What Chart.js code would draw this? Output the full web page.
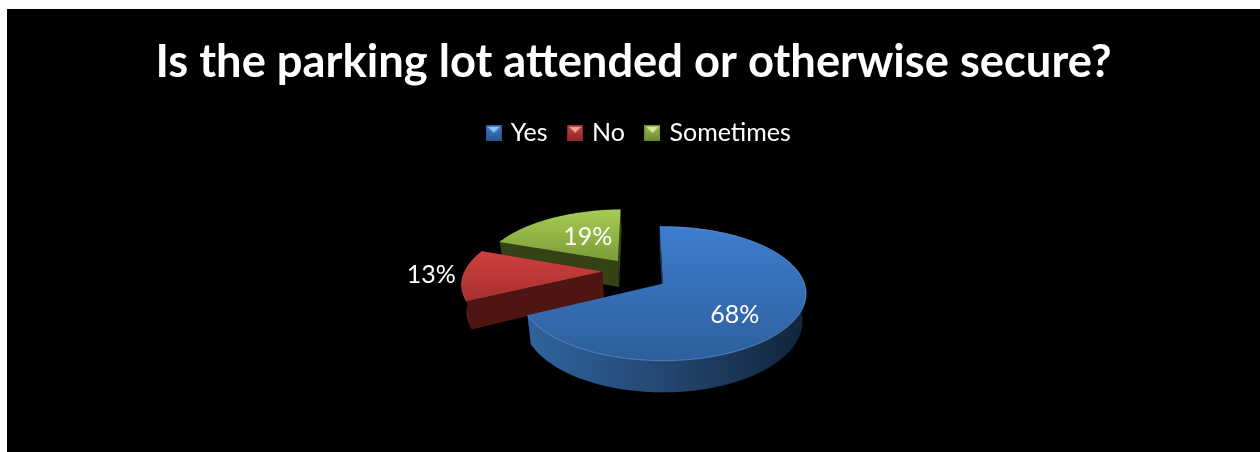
<!DOCTYPE html>
<html>
<head>
<meta charset="utf-8">
<style>
html,body{margin:0;padding:0;background:#fff;overflow:hidden;width:1260px;height:452px}
#c{position:absolute;left:7px;top:9px;background:#000;display:block}
</style>
<script src="https://cdn.jsdelivr.net/npm/chart.js@4/dist/chart.umd.min.js"></script>
</head>
<body>
<canvas id="c" width="1253" height="443"></canvas>
<script>
const titleText = "Is the parking lot attended or otherwise secure?";
const categories = ["Yes", "No", "Sometimes"];
const values = [68, 13, 19];

// Look of the tilted 3D pie
const FONT = "Lato, Carlito, Calibri, sans-serif";
const look = {
  rx: 141.5, ry: 65.5, persp: 0.149, depth: 27, lowerScale: 0.975, centerShiftX: 29.5,
  explode: [[0, 0], [-0.441, -0.19], [-0.335, -0.36]],
  labelT: [0.566, 1.22, 0.42],
  labelNudge: [[0, 11], [-1, -1], [-1, -5]],
  top: [["#3d7dce", "#2e5f9d"], ["#cf403d", "#a5312e"], ["#a6cb52", "#7c9c39"]],
  outer: [["#2f649f", "#234670", "#12233b"], ["#7a2220", "#5a1917", "#4a1411"], ["#3d4e1a", "#344215", "#2f3c13"]],
  wall: ["#1d3a60", "#4e1512", "#344215"],
  rim: ["rgba(120,175,240,.55)", "rgba(230,120,115,.4)", "rgba(200,225,130,.4)"],
  swatch: [["#3d7dce", "#2a5690", "#8fc0f0"], ["#c9403d", "#8c2a28", "#f0a09c"], ["#9cc04c", "#6c8a30", "#d8ec9c"]]
};

function project(o, u, v, lower) {
  const f = 1 / (1 - look.persp * v);
  const s = lower ? look.lowerScale : 1;
  return [o.x + u * look.rx * f * s, o.y + v * look.ry * f + (lower ? look.depth * f : 0)];
}
function tracePoly(ctx, pts) {
  ctx.beginPath();
  pts.forEach((p, i) => i ? ctx.lineTo(p[0], p[1]) : ctx.moveTo(p[0], p[1]));
  ctx.closePath();
}
function rimPoints(o, a0, a1, ex, lower) {
  const n = Math.max(2, Math.ceil(Math.abs(a1 - a0) / (Math.PI / 180)));
  const out = [];
  for (let i = 0; i <= n; i++) {
    const a = a0 + (a1 - a0) * i / n;
    out.push(project(o, ex[0] + Math.cos(a), ex[1] + Math.sin(a), lower));
  }
  return out;
}
function drawSlice(ctx, o, arc, i) {
  const ex = look.explode[i];
  const a0 = arc.startAngle, a1 = arc.endAngle;
  const topRim = rimPoints(o, a0, a1, ex, false);
  const lowRim = rimPoints(o, a0, a1, ex, true);
  const apex = project(o, ex[0], ex[1], false);
  const apexLow = project(o, ex[0], ex[1], true);
  const xs = topRim.map(p => p[0]), ys = topRim.map(p => p[1]);
  const minX = Math.min(...xs), maxX = Math.max(...xs), minY = Math.min(...ys, apex[1]), maxY = Math.max(...ys, apex[1]);
  const drawOuter = () => {
    const g = ctx.createLinearGradient(minX, 0, maxX, 0);
    look.outer[i].forEach((c, k) => g.addColorStop(k / 2, c));
    ctx.fillStyle = g;
    tracePoly(ctx, topRim.concat(lowRim.slice().reverse())); ctx.fill();
  };
  const drawRadial = () => {
    ctx.fillStyle = look.wall[i];
    tracePoly(ctx, [apex, topRim[0], lowRim[0], apexLow]); ctx.fill();
    tracePoly(ctx, [apex, topRim[topRim.length - 1], lowRim[lowRim.length - 1], apexLow]); ctx.fill();
  };
  // the large slice turns its radial walls away from the viewer
  if (i === 0) { drawRadial(); drawOuter(); } else { drawOuter(); drawRadial(); }
  // top face
  const t = ctx.createLinearGradient(0, minY, 0, maxY);
  t.addColorStop(0, look.top[i][0]); t.addColorStop(1, look.top[i][1]);
  ctx.fillStyle = t;
  tracePoly(ctx, [apex].concat(topRim)); ctx.fill();
  ctx.strokeStyle = look.rim[i]; ctx.lineWidth = 1;
  ctx.beginPath();
  topRim.forEach((p, k) => k ? ctx.lineTo(p[0], p[1]) : ctx.moveTo(p[0], p[1]));
  ctx.stroke();
}
const pie3d = {
  id: "pie3d",
  afterLayout(chart) { chart.legend.left += 13; },
  beforeDatasetsDraw(chart) {
    const ctx = chart.ctx, arcs = chart.getDatasetMeta(0).data;
    const first = arcs[0];
    const o = { x: first.x + look.centerShiftX, y: first.y };
    ctx.save();
    [2, 1, 0].forEach(i => drawSlice(ctx, o, arcs[i], i));
    ctx.fillStyle = "#fff";
    ctx.font = "25px " + FONT;
    ctx.textAlign = "center"; ctx.textBaseline = "middle";
    arcs.forEach((arc, i) => {
      const mid = (arc.startAngle + arc.endAngle) / 2, ex = look.explode[i], T = look.labelT[i];
      const p = project(o, ex[0] + Math.cos(mid) * T, ex[1] + Math.sin(mid) * T, false);
      ctx.fillText(values[i] + "%", p[0] + look.labelNudge[i][0], p[1] + look.labelNudge[i][1]);
    });
    ctx.restore();
    return false;
  }
};
function swatch(i) {
  const s = 16, c = document.createElement("canvas");
  c.width = s; c.height = s;
  const x = c.getContext("2d"), [mid, dark, light] = look.swatch[i];
  const g = x.createLinearGradient(0, 0, 0, s);
  g.addColorStop(0, mid); g.addColorStop(1, dark);
  x.fillStyle = g; x.fillRect(0, 0, s, s);
  x.fillStyle = light; x.beginPath(); x.moveTo(2, 2); x.lineTo(14, 2); x.lineTo(8, 8); x.closePath(); x.fill();
  x.strokeStyle = dark; x.strokeRect(.5, .5, s - 1, s - 1);
  return c;
}
new Chart(document.getElementById("c"), {
  type: "pie",
  data: {
    labels: categories,
    datasets: [{ data: values, backgroundColor: look.top.map(c => c[0]), borderWidth: 0 }]
  },
  plugins: [pie3d],
  options: {
    responsive: false,
    animation: false,
    rotation: -1.5,
    layout: { padding: { bottom: 40 } },
    plugins: {
      tooltip: { enabled: false },
      title: {
        display: true, text: titleText, color: "#fff",
        font: { family: FONT, size: 45.3, weight: "bold" },
        padding: { top: 26, bottom: 8 }
      },
      legend: {
        position: "top",
        labels: {
          color: "#fff", font: { family: FONT, size: 25 },
          usePointStyle: true, pointStyleWidth: 9, boxWidth: 9, boxHeight: 16, padding: 23,
          generateLabels: () => categories.map((t, i) => ({
            text: t, fontColor: "#fff", fillStyle: look.swatch[i][0], strokeStyle: look.swatch[i][0],
            lineWidth: 0, pointStyle: swatch(i), hidden: false, index: i
          }))
        }
      }
    }
  }
});
</script>
</body>
</html>
